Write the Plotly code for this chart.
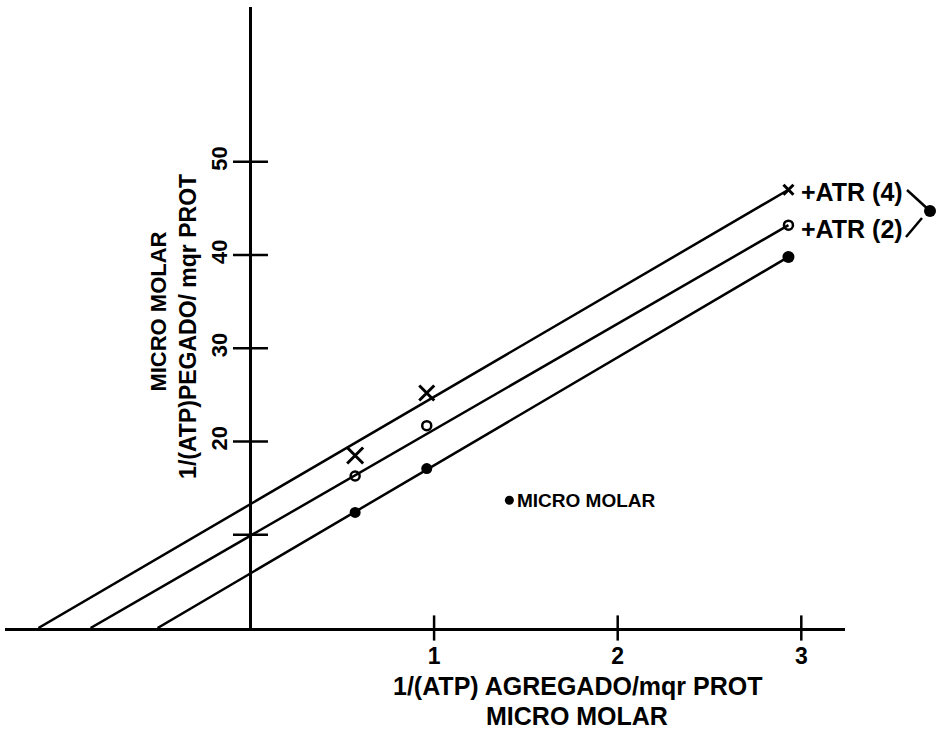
import plotly.graph_objects as go

# ---- data ----
x_points = [0.57, 0.96, 2.93]
y_atr4 = [18.5, 25.2, 47.0]      # x markers  (+ATR 4)
y_atr2 = [16.3, 21.7, 43.2]      # open circles (+ATR 2)
y_ctrl = [12.4, 17.1, 39.8]      # filled circles (control)

# fitted lines: x-intercept -> end point
line_x_start = [-1.155, -0.871, -0.506]
line_x_end = [2.93, 2.93, 2.93]
line_y_end = [47.0, 43.2, 39.8]

x_ticks = [1, 2, 3]
x_tick_text = ["1", "2", "3"]
y_ticks = [10, 20, 30, 40, 50]
y_tick_labels = [20, 30, 40, 50]

label_atr4 = "+ATR (4)"
label_atr2 = "+ATR (2)"
x_title_1 = "1/(ATP) AGREGADO/mqr PROT"
x_title_2 = "MICRO MOLAR"
y_title_1 = "1/(ATP)PEGADO/ mqr PROT"
y_title_2 = "MICRO MOLAR"
legend_note = "MICRO MOLAR"

X_RANGE = [-1.337, 3.238]
Y_RANGE = [0, 66.6]
FONT = "Liberation Sans"
LW = 2.5

# plot area in pixels (for paper-referenced decorations)
L, R, T, B = 5, 845, 7, 628


def px2paper(px, py):
    return (px - L) / float(R - L), (B - py) / float(B - T)


fig = go.Figure()

# regression lines
for xs, xe, ye in zip(line_x_start, line_x_end, line_y_end):
    fig.add_trace(go.Scatter(x=[xs, xe], y=[0, ye], mode="lines",
                             line=dict(color="black", width=LW),
                             showlegend=False, hoverinfo="skip"))

# markers
fig.add_trace(go.Scatter(x=x_points, y=y_atr4, mode="markers", showlegend=False,
                         marker=dict(symbol="x-thin", size=[16, 15, 10], color="black",
                                     opacity=1, line=dict(color="black", width=3))))
fig.add_trace(go.Scatter(x=x_points, y=y_atr2, mode="markers", showlegend=False,
                         marker=dict(symbol="circle-open", size=[9, 9, 9], color="black",
                                     opacity=1, line=dict(color="black", width=2.5))))
fig.add_trace(go.Scatter(x=x_points, y=y_ctrl, mode="markers", showlegend=False,
                         marker=dict(symbol="circle", size=[11, 11, 12], color="black",
                                     opacity=1, line=dict(width=0))))

# crossing tick marks on the x axis
fig.add_trace(go.Scatter(x=x_ticks, y=[0] * len(x_ticks), mode="markers", showlegend=False,
                         cliponaxis=False, hoverinfo="skip",
                         marker=dict(symbol="line-ns", size=18, opacity=1,
                                     line=dict(color="black", width=2.5))))
# crossing tick marks on the y axis
fig.add_trace(go.Scatter(x=[0] * len(y_ticks), y=y_ticks, mode="markers", showlegend=False,
                         cliponaxis=False, hoverinfo="skip",
                         marker=dict(symbol="line-ew", size=25, opacity=1,
                                     line=dict(color="black", width=2.5))))

# note dot "• MICRO MOLAR"
fig.add_trace(go.Scatter(x=[1.41], y=[13.7], mode="markers", showlegend=False,
                         marker=dict(symbol="circle", size=9, color="black", opacity=1,
                                     line=dict(width=0))))

fig.update_layout(
    width=938, height=735,
    margin=dict(l=L, r=938 - R, t=T, b=735 - B),
    paper_bgcolor="white", plot_bgcolor="white",
    font=dict(family=FONT, color="black", size=22),
    xaxis=dict(range=X_RANGE, showgrid=False, zeroline=False,
               showline=True, linecolor="black", linewidth=LW,
               tickvals=x_ticks, ticktext=x_tick_text, ticks="",
               ticklabelstandoff=6,
               tickfont=dict(size=23, family=FONT, weight="bold")),
    yaxis=dict(range=Y_RANGE, showgrid=False, zeroline=False,
               anchor="free", position=(0 - X_RANGE[0]) / (X_RANGE[1] - X_RANGE[0]),
               showline=True, linecolor="black", linewidth=LW,
               tickvals=y_tick_labels, ticktext=[str(v) for v in y_tick_labels],
               ticks="", tickangle=-90, ticklabelstandoff=14,
               tickfont=dict(size=22, family=FONT, weight="bold")),
)

ann = []
# x-axis titles (below the plot -> paper coords)
xt, yt1 = px2paper(577, 686)
_, yt2 = px2paper(577, 716)
ann.append(dict(xref="paper", yref="paper", x=xt, y=yt1, text=x_title_1, showarrow=False,
                xanchor="center", yanchor="middle",
                font=dict(size=25, family=FONT, weight="bold")))
ann.append(dict(xref="paper", yref="paper", x=xt, y=yt2, text=x_title_2, showarrow=False,
                xanchor="center", yanchor="middle",
                font=dict(size=25, family=FONT, weight="bold")))
# y-axis titles
ann.append(dict(xref="x", yref="y", x=-0.34, y=32.3, text=y_title_1, showarrow=False,
                textangle=-90, xanchor="center", yanchor="middle",
                font=dict(size=23, family=FONT, weight="bold")))
ann.append(dict(xref="x", yref="y", x=-0.50, y=33.9, text=y_title_2, showarrow=False,
                textangle=-90, xanchor="center", yanchor="middle",
                font=dict(size=22, family=FONT, weight="bold")))
# series labels
ann.append(dict(xref="x", yref="y", x=2.99, y=46.8, text=label_atr4, showarrow=False,
                xanchor="left", yanchor="middle",
                font=dict(size=25, family=FONT, weight="bold")))
ann.append(dict(xref="x", yref="y", x=2.99, y=42.8, text=label_atr2, showarrow=False,
                xanchor="left", yanchor="middle",
                font=dict(size=25, family=FONT, weight="bold")))
# note
ann.append(dict(xref="x", yref="y", x=1.44, y=13.7, text=legend_note, showarrow=False,
                xanchor="left", yanchor="middle",
                font=dict(size=19, family=FONT, weight="bold")))
fig.update_layout(annotations=ann)

# bracket lines joining the two labels to the dot (outside plot -> paper coords)
for (p0, p1) in [((907, 190), (930, 211)), ((906, 237), (922, 218))]:
    x0, y0 = px2paper(*p0)
    x1, y1 = px2paper(*p1)
    fig.add_shape(type="line", xref="paper", yref="paper", x0=x0, y0=y0, x1=x1, y1=y1,
                  line=dict(color="black", width=2.5))
cx0, cy0 = px2paper(924, 205)
cx1, cy1 = px2paper(936, 217)
fig.add_shape(type="circle", xref="paper", yref="paper", x0=cx0, y0=cy0, x1=cx1, y1=cy1,
              fillcolor="black", line=dict(color="black", width=0))

fig.write_html("out.html")
